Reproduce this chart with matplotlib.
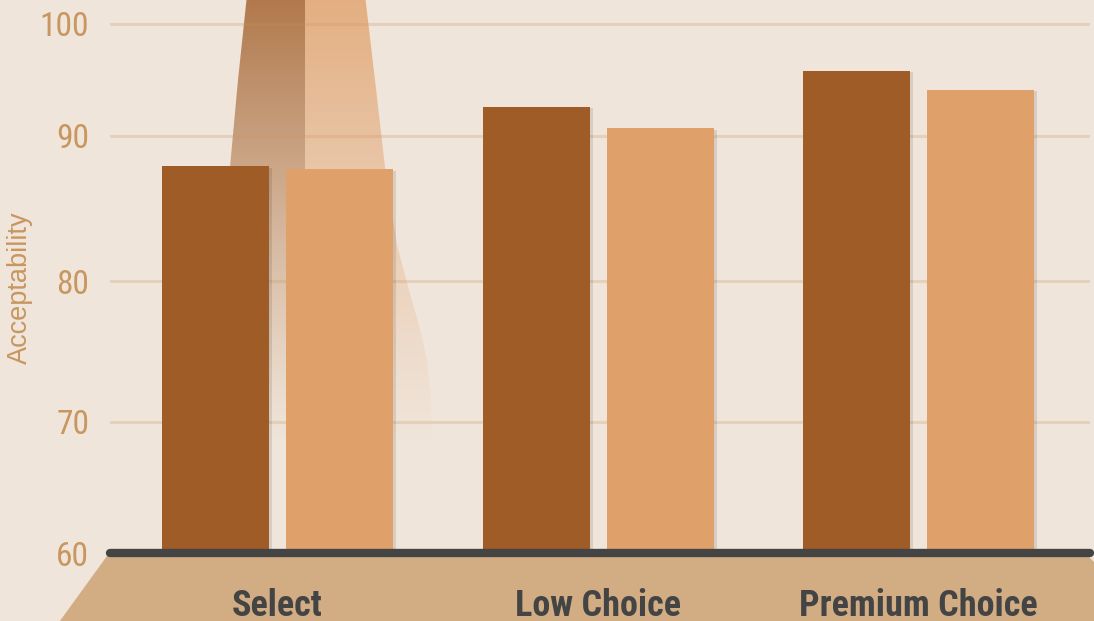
import matplotlib
matplotlib.use("Agg")
import matplotlib.pyplot as plt
import numpy as np
from matplotlib.patches import Polygon, PathPatch
from matplotlib.path import Path
from matplotlib import patheffects as pe

# data
categories = ["Select", "Low Choice", "Premium Choice"]
series_dark = [87.9, 92.6, 95.8]
series_light = [87.7, 90.7, 94.1]
y_ticks = [60, 70, 80, 90, 100]
baseline = 60

# the published chart spaces its gridlines unevenly; keep that spacing
scale_values = [0, 60, 70, 80, 90, 100, 200]
scale_pixels = [-786, 0, 131, 272, 417, 529, 1649]

BG = "#F0E5DA"
DARK = "#A05C26"
LIGHT = "#E0A06A"
TAN = "#C8965F"
AXIS = "#444444"
BASE = "#D2AD83"
COND = ["Roboto Condensed", "DejaVu Sans"]

W, H = 1094, 621
fig = plt.figure(figsize=(W / 100, H / 100), dpi=100, facecolor=BG)

# decoration layer in pixel coordinates
deco = fig.add_axes([0, 0, 1, 1], zorder=0)
deco.set_xlim(0, W)
deco.set_ylim(H, 0)
deco.axis("off")

# translucent glass behind the first group
glass_pts = [(247, -5), (238, 80), (230, 167), (222, 300), (215, 470),
             (432, 470), (431, 400), (427, 360), (419, 325), (409, 290),
             (397, 245), (385, 167), (375, 80), (365, -5)]
glass_path = Path(glass_pts + [glass_pts[0]], closed=True)
gx0, gx1, gy0, gy1 = 210, 440, -5, 470
nx, ny = gx1 - gx0, gy1 - gy0
img = np.zeros((ny, nx, 4))
xs = np.arange(nx) + gx0
ys = np.arange(ny) + gy0
img[:, xs < 305, :3] = matplotlib.colors.to_rgb(DARK)
img[:, xs >= 305, :3] = matplotlib.colors.to_rgb(LIGHT)
alpha = 0.8 * np.clip(1 - (ys + 5) / 450.0, 0, 1) ** 1.15
img[:, :, 3] = alpha[:, None]
im = deco.imshow(img, extent=(gx0, gx1, gy1, gy0), interpolation="bilinear", zorder=1)
clip = PathPatch(glass_path, transform=deco.transData, facecolor="none", edgecolor="none")
deco.add_patch(clip)
im.set_clip_path(clip)

# tan base under the axis line
deco.add_patch(Polygon([(107, 556), (1088, 556), (1094, 562), (1094, 625), (57, 625)],
                       closed=True, facecolor=BASE, edgecolor="none", zorder=2))

# main chart
ax = fig.add_axes([110 / W, (H - 553) / H, (1090 - 110) / W, 553 / H], zorder=1)
ax.set_facecolor("none")


def forward(v):
    return np.interp(v, scale_values, scale_pixels)


def inverse(p):
    return np.interp(p, scale_pixels, scale_values)


ax.set_yscale("function", functions=(forward, inverse))
ax.set_ylim(baseline, inverse(553))

x = np.arange(len(categories))
unit = 320.5
ax.set_xlim((110 - 277.5) / unit, (1090 - 277.5) / unit)
bar_w = 107 / unit
offset = 62 / unit

shadow = [pe.SimplePatchShadow(offset=(2.5, -1), shadow_rgbFace="black", alpha=0.1), pe.Normal()]
ax.bar(x - offset, np.array(series_dark) - baseline, bottom=baseline, width=bar_w,
       color=DARK, zorder=3, path_effects=shadow)
ax.bar(x + offset, np.array(series_light) - baseline, bottom=baseline, width=bar_w,
       color=LIGHT, zorder=3, path_effects=shadow)

for t in y_ticks[1:]:
    ax.axhline(t, color=TAN, alpha=0.25, linewidth=2.2, zorder=1)
ax.axhline(baseline, color=AXIS, linewidth=6, solid_capstyle="round", zorder=4, clip_on=False)

for s in ax.spines.values():
    s.set_visible(False)

ax.set_yticks(y_ticks)
ax.set_yticklabels([str(t) for t in y_ticks], color=TAN, fontsize=24, family=COND)
ax.tick_params(axis="y", length=0, pad=15)

ax.set_xticks(x)
ax.set_xticklabels(categories, color=AXIS, fontsize=26, fontweight="bold", family=COND)
ax.tick_params(axis="x", length=0, pad=25)

fig.text(20 / W, 1 - 288 / H, "Acceptability", rotation=90, ha="center", va="center",
         color=TAN, fontsize=19.5, family=["Liberation Sans", "DejaVu Sans"])

fig.savefig("out.png", dpi=100, facecolor=BG)
